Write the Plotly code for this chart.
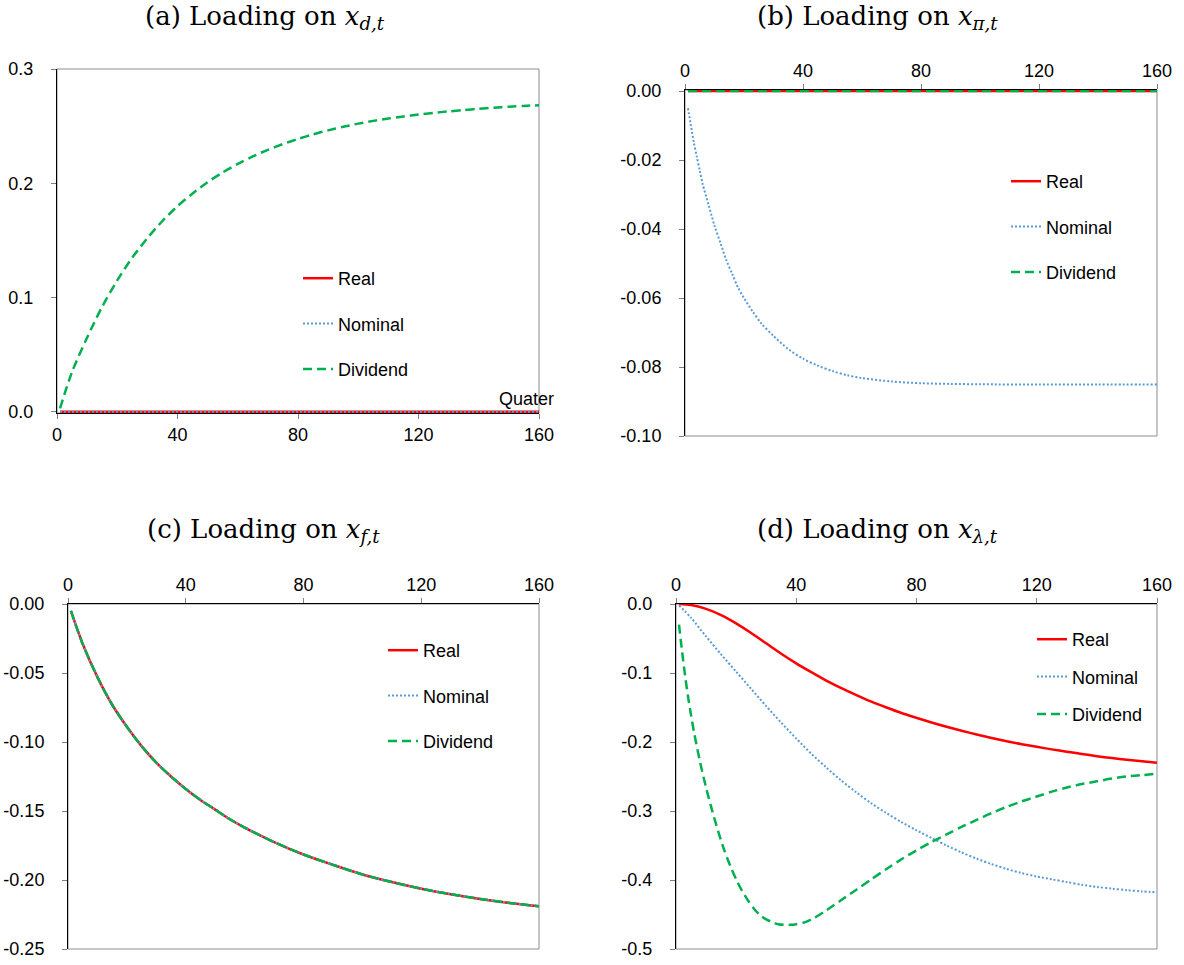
import plotly.graph_objects as go

W, H = 1184, 965

# ---------------- data ----------------
X_TICKS = [0, 40, 80, 120, 160]
X_TICKTEXT = ["0", "40", "80", "120", "160"]

# (a) Loading on x_{d,t}
a_real_q = [1, 160]
a_real = [0.0, 0.0]
a_nom_q = [1, 160]
a_nom = [0.0, 0.0]
a_div_q = [1, 5, 10, 15, 20, 25, 30, 35, 40, 45, 50, 55, 60, 65, 70, 75, 80, 85, 90,
           95, 100, 105, 110, 115, 120, 125, 130, 135, 140, 145, 150, 155, 160]
a_div = [0.003, 0.035, 0.065, 0.092, 0.115, 0.135, 0.152, 0.167, 0.180, 0.191, 0.201,
         0.2095, 0.217, 0.2235, 0.2293, 0.2343, 0.2388, 0.2428, 0.2463, 0.2494, 0.2522,
         0.2546, 0.2567, 0.2585, 0.2601, 0.2616, 0.2629, 0.2641, 0.2652, 0.2662, 0.2670,
         0.2677, 0.2683]
a_yticks = [0.0, 0.1, 0.2, 0.3]
a_yticktext = ["0.0", "0.1", "0.2", "0.3"]

# (b) Loading on x_{pi,t}
b_real_q = [1, 160]
b_real = [0.0, 0.0]
b_nom_q = [1, 2, 3, 4, 5, 6, 8, 10, 12, 14, 16, 18, 20, 23, 26, 30, 35, 40, 45, 50, 55,
           60, 70, 80, 90, 100, 120, 140, 160]
b_nom = [-0.005, -0.010, -0.015, -0.019, -0.023, -0.027, -0.033, -0.039, -0.044, -0.049,
         -0.053, -0.057, -0.060, -0.064, -0.0675, -0.0710, -0.0748, -0.0776, -0.0796,
         -0.0812, -0.0824, -0.0832, -0.0842, -0.0847, -0.0849, -0.0850, -0.0851, -0.0851,
         -0.0851]
b_div_q = [1, 160]
b_div = [0.0, 0.0]
b_yticks = [0.0, -0.02, -0.04, -0.06, -0.08, -0.10]
b_yticktext = ["0.00", "-0.02", "-0.04", "-0.06", "-0.08", "-0.10"]

# (c) Loading on x_{f,t}  (all three series coincide)
c_q = [1, 5, 10, 15, 20, 25, 30, 35, 40, 45, 50, 55, 60, 70, 80, 90, 100, 110, 120,
       130, 140, 150, 160]
c_real = [-0.005, -0.029, -0.053, -0.073, -0.089, -0.103, -0.115, -0.125, -0.134, -0.142,
          -0.149, -0.156, -0.162, -0.1725, -0.1815, -0.189, -0.196, -0.2015, -0.2063,
          -0.2103, -0.2137, -0.2166, -0.219]
c_nom = [-0.005, -0.029, -0.053, -0.073, -0.089, -0.103, -0.115, -0.125, -0.134, -0.142,
         -0.149, -0.156, -0.162, -0.1725, -0.1815, -0.189, -0.196, -0.2015, -0.2063,
         -0.2103, -0.2137, -0.2166, -0.219]
c_div = [-0.005, -0.029, -0.053, -0.073, -0.089, -0.103, -0.115, -0.125, -0.134, -0.142,
         -0.149, -0.156, -0.162, -0.1725, -0.1815, -0.189, -0.196, -0.2015, -0.2063,
         -0.2103, -0.2137, -0.2166, -0.219]
c_yticks = [0.0, -0.05, -0.10, -0.15, -0.20, -0.25]
c_yticktext = ["0.00", "-0.05", "-0.10", "-0.15", "-0.20", "-0.25"]

# (d) Loading on x_{lambda,t}
d_real_q = [1, 5, 10, 15, 20, 25, 30, 35, 40, 45, 50, 55, 60, 65, 70, 75, 80, 85, 90,
            95, 100, 105, 110, 115, 120, 125, 130, 135, 140, 145, 150, 155, 160]
d_real = [0.0, -0.0015, -0.007, -0.016, -0.028, -0.042, -0.057, -0.072, -0.086, -0.0988,
          -0.111, -0.122, -0.132, -0.1415, -0.150, -0.158, -0.165, -0.1718, -0.178,
          -0.1837, -0.189, -0.1942, -0.199, -0.2032, -0.207, -0.2107, -0.214, -0.2173,
          -0.2205, -0.2233, -0.2258, -0.228, -0.230]
d_nom_q = [1, 5, 10, 15, 20, 25, 30, 35, 40, 45, 50, 55, 60, 65, 70, 75, 80, 85, 90,
           95, 100, 105, 110, 115, 120, 125, 130, 135, 140, 145, 150, 155, 160]
d_nom = [-0.002, -0.020, -0.047, -0.073, -0.098, -0.123, -0.148, -0.172, -0.195, -0.217,
         -0.237, -0.256, -0.273, -0.289, -0.303, -0.316, -0.328, -0.339, -0.350, -0.360,
         -0.369, -0.377, -0.384, -0.390, -0.395, -0.399, -0.403, -0.407, -0.410, -0.4125,
         -0.4147, -0.4165, -0.418]
d_div_q = [1, 2, 3, 4, 5, 6, 8, 10, 12, 14, 16, 18, 20, 22, 24, 26, 28, 30, 32, 34, 36,
           38, 40, 43, 46, 50, 55, 60, 65, 70, 75, 80, 85, 90, 95, 100, 105, 110, 115,
           120, 125, 130, 135, 140, 145, 150, 155, 160]
d_div = [-0.030, -0.068, -0.103, -0.134, -0.161, -0.186, -0.229, -0.266, -0.299, -0.329,
         -0.356, -0.379, -0.399, -0.416, -0.430, -0.442, -0.451, -0.457, -0.461, -0.464,
         -0.465, -0.465, -0.464, -0.461, -0.455, -0.444, -0.429, -0.414, -0.399, -0.384,
         -0.370, -0.357, -0.345, -0.334, -0.323, -0.313, -0.303, -0.294, -0.286, -0.279,
         -0.272, -0.266, -0.261, -0.257, -0.253, -0.250, -0.248, -0.246]
d_yticks = [0.0, -0.1, -0.2, -0.3, -0.4, -0.5]
d_yticktext = ["0.0", "-0.1", "-0.2", "-0.3", "-0.4", "-0.5"]

SERIES_NAMES = ["Real", "Nominal", "Dividend"]
TITLES = ["(a) Loading on <i>x</i><sub><i>d,t</i></sub>",
          "(b) Loading on <i>x</i><sub><i>\u03c0,t</i></sub>",
          "(c) Loading on <i>x</i><sub><i>f,t</i></sub>",
          "(d) Loading on <i>x</i><sub><i>\u03bb,t</i></sub>"]

# ---------------- styling ----------------
RED = "#FF0000"
BLUE = "#5B9BD5"
GREEN = "#00B050"
SANS = "Liberation Sans, Arial, sans-serif"
SERIF = "DejaVu Serif, serif"

STYLES = [dict(color=RED, width=2.5, dash="solid"),
          dict(color=BLUE, width=2, dash="2px,2px"),
          dict(color=GREEN, width=2.5, dash="9px,5px")]


def px_x(p):
    return p / W


def px_y(p):
    return 1 - p / H


panels = [
    dict(xd=[57, 539], yd=[69, 413], yr=[-0.001, 0.3], side="bottom",
         yt=a_yticks, ytt=a_yticktext,
         data=[(a_real_q, a_real), (a_nom_q, a_nom), (a_div_q, a_div)],
         leg=(298, 260), gap=19, title=(265, 18)),
    dict(xd=[685, 1157], yd=[90, 436], yr=[-0.1, 0.0003], side="top",
         yt=b_yticks, ytt=b_yticktext,
         data=[(b_real_q, b_real), (b_nom_q, b_nom), (b_div_q, b_div)],
         leg=(1006, 163), gap=19, title=(877, 18)),
    dict(xd=[68, 539], yd=[604, 949], yr=[-0.25, 0.0], side="top",
         yt=c_yticks, ytt=c_yticktext,
         data=[(c_q, c_real), (c_q, c_nom), (c_q, c_div)],
         leg=(383, 632), gap=19, title=(263, 530)),
    dict(xd=[676, 1157], yd=[604, 949], yr=[-0.5, 0.0], side="top",
         yt=d_yticks, ytt=d_yticktext,
         data=[(d_real_q, d_real), (d_nom_q, d_nom), (d_div_q, d_div)],
         leg=(1032, 621), gap=11, title=(877, 530)),
]

fig = go.Figure()
layout = dict(width=W, height=H, margin=dict(l=0, r=0, t=0, b=0, autoexpand=False),
              paper_bgcolor="white", plot_bgcolor="white", showlegend=True,
              font=dict(family=SANS, size=18, color="black"))
annotations = []
shapes = []

for i, p in enumerate(panels):
    n = i + 1
    xa = "xaxis" if n == 1 else f"xaxis{n}"
    ya = "yaxis" if n == 1 else f"yaxis{n}"
    xref = "x" if n == 1 else f"x{n}"
    yref = "y" if n == 1 else f"y{n}"
    legname = "legend" if n == 1 else f"legend{n}"

    for k, (q, v) in enumerate(p["data"]):
        fig.add_trace(go.Scatter(
            x=q, y=v, mode="lines", name=SERIES_NAMES[k],
            line=dict(color=STYLES[k]["color"], width=STYLES[k]["width"],
                      dash=STYLES[k]["dash"], shape="spline", smoothing=0.8),
            xaxis=xref, yaxis=yref, legend=legname,
            legendgroup=f"g{n}_{k}", hoverinfo="skip"))

    layout[xa] = dict(domain=[px_x(p["xd"][0]), px_x(p["xd"][1])], range=[0, 160],
                      anchor=yref, side=p["side"], tickvals=X_TICKS, ticktext=X_TICKTEXT,
                      showline=True, linecolor="black", linewidth=1,
                      ticks="outside", ticklen=5, tickcolor="#808080",
                      showgrid=False, zeroline=False, layer="below traces",
                      automargin=False,
                      tickfont=dict(family=SANS, size=18, color="black"))
    layout[ya] = dict(domain=[px_y(p["yd"][1]), px_y(p["yd"][0])], range=p["yr"],
                      anchor=xref, tickvals=p["yt"], ticktext=p["ytt"],
                      showline=True, linecolor="black", linewidth=1,
                      ticks="outside", ticklen=5, tickcolor="#808080",
                      showgrid=False, zeroline=False, layer="below traces",
                      automargin=False, ticklabelstandoff=14,
                      tickfont=dict(family=SANS, size=18, color="black"))
    layout[legname] = dict(x=px_x(p["leg"][0]), y=px_y(p["leg"][1]),
                           xanchor="left", yanchor="top", bgcolor="rgba(0,0,0,0)",
                           borderwidth=0, tracegroupgap=p["gap"], itemwidth=30,
                           traceorder="grouped",
                           font=dict(family=SANS, size=18, color="black"))

    # plot-area frame (gray)
    shapes.append(dict(type="rect", xref=f"{xref} domain", yref=f"{yref} domain",
                       x0=0, x1=1, y0=0, y1=1, layer="below",
                       line=dict(color="#8c8c8c", width=1)))

    annotations.append(dict(text=TITLES[i], x=px_x(p["title"][0]), y=px_y(p["title"][1]),
                            xref="paper", yref="paper", xanchor="center", yanchor="middle",
                            showarrow=False,
                            font=dict(family=SERIF, size=26, color="black")))

annotations.append(dict(text="Quater", x=160, y=0, xref="x", yref="y",
                        xanchor="right", yanchor="bottom", xshift=17, yshift=1,
                        showarrow=False, font=dict(family=SANS, size=18, color="black")))

layout["annotations"] = annotations
layout["shapes"] = shapes
fig.update_layout(**layout)
fig.write_html("out.html")
